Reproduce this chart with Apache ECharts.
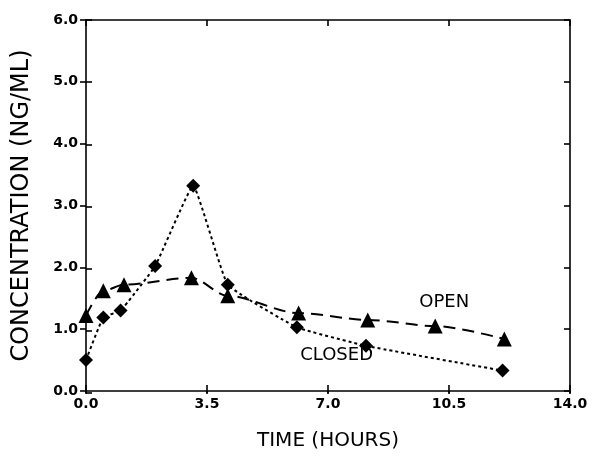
<!DOCTYPE html>
<html><head><meta charset="utf-8">
<script src="https://cdn.jsdelivr.net/npm/echarts@6/dist/echarts.min.js"></script>
<style>html,body{margin:0;padding:0;background:#fff}#c{width:602px;height:456px}</style>
</head><body><div id="c"></div>
<script>
const openX = [0, 0.5, 1.1, 3.05, 4.1, 6.15, 8.15, 10.1, 12.1];
const openY = [1.22, 1.62, 1.72, 1.83, 1.54, 1.26, 1.15, 1.05, 0.84];
const closedX = [0, 0.5, 1.0, 2.0, 3.1, 4.1, 6.1, 8.1, 12.05];
const closedY = [0.5, 1.19, 1.3, 2.02, 3.32, 1.72, 1.03, 0.73, 0.33];
const xTicks = [0, 3.5, 7, 10.5, 14];
const yTicks = [0, 1, 2, 3, 4, 5, 6];
const openLabel = {text: 'OPEN', x: 10.36, y: 1.44};
const closedLabel = {text: 'CLOSED', x: 7.25, y: 0.57};

const font = 'DejaVu Sans';
const chart = echarts.init(document.getElementById('c'));
const baseX = {type: 'value', min: xTicks[0], max: xTicks[xTicks.length - 1], interval: xTicks[1] - xTicks[0], splitLine: {show: false}};
const baseY = {type: 'value', min: yTicks[0], max: yTicks[yTicks.length - 1], interval: yTicks[1] - yTicks[0], splitLine: {show: false}};
const lineStyle = {color: '#000', width: 1.6};
const noLine = {show: false, onZero: false};
const withLine = {show: true, onZero: false, lineStyle: lineStyle};
chart.setOption({
  animation: false,
  grid: [
    {left: 86, right: 32, top: 20, bottom: 63},
    {left: 86, right: 32, top: 20, bottom: 63}
  ],
  xAxis: [
    Object.assign({}, baseX, {gridIndex: 0, position: 'bottom', name: 'TIME (HOURS)', nameLocation: 'middle', nameGap: 40,
      nameTextStyle: {fontFamily: font, fontSize: 20, color: '#000'},
      axisLine: withLine, axisTick: {inside: false, length: 3, lineStyle: lineStyle},
      axisLabel: {fontFamily: font, fontWeight: 'bold', fontSize: 14, color: '#000', margin: 6,
        formatter: v => v.toFixed(1)}}),
    Object.assign({}, baseX, {gridIndex: 0, position: 'top', axisLine: withLine, axisLabel: {show: false},
      axisTick: {inside: true, length: 6, lineStyle: lineStyle}}),
    Object.assign({}, baseX, {gridIndex: 1, position: 'bottom', axisLine: noLine, axisLabel: {show: false},
      axisTick: {inside: true, length: 8, lineStyle: lineStyle}})
  ],
  yAxis: [
    Object.assign({}, baseY, {gridIndex: 0, position: 'left', name: 'CONCENTRATION (NG/ML)', nameLocation: 'middle', nameGap: 52,
      nameTextStyle: {fontFamily: font, fontSize: 24, color: '#000'},
      axisLine: withLine, axisTick: {inside: false, length: 6, lineStyle: lineStyle},
      axisLabel: {fontFamily: font, fontWeight: 'bold', fontSize: 14, color: '#000', margin: 8,
        formatter: v => v.toFixed(1)}}),
    Object.assign({}, baseY, {gridIndex: 0, position: 'right', axisLine: withLine, axisLabel: {show: false},
      axisTick: {inside: true, length: 6, lineStyle: lineStyle}}),
    Object.assign({}, baseY, {gridIndex: 1, position: 'left', axisLine: noLine, axisLabel: {show: false},
      axisTick: {inside: true, length: 6, lineStyle: lineStyle}})
  ],
  series: [
    {
      name: 'OPEN', type: 'line', xAxisIndex: 0, yAxisIndex: 0, smooth: 0.3, smoothMonotone: 'x',
      data: openX.map((x, i) => [x, openY[i]]),
      symbol: 'triangle', symbolSize: 15,
      itemStyle: {color: '#000'},
      lineStyle: {color: '#000', width: 2, type: [12, 7]},
      markPoint: {symbolSize: 0, data: [{coord: [openLabel.x, openLabel.y], value: openLabel.text}],
        label: {show: true, position: 'inside', formatter: openLabel.text, color: '#000', fontFamily: font, fontSize: 18}}
    },
    {
      name: 'CLOSED', type: 'line', xAxisIndex: 0, yAxisIndex: 0, smooth: 0.1,
      data: closedX.map((x, i) => [x, closedY[i]]),
      symbol: 'diamond', symbolSize: 14,
      itemStyle: {color: '#000'},
      lineStyle: {color: '#000', width: 2, type: [3, 3]},
      markPoint: {symbolSize: 0, data: [{coord: [closedLabel.x, closedLabel.y], value: closedLabel.text}],
        label: {show: true, position: 'inside', formatter: closedLabel.text, color: '#000', fontFamily: font, fontSize: 18}}
    }
  ]
});
</script></body></html>
